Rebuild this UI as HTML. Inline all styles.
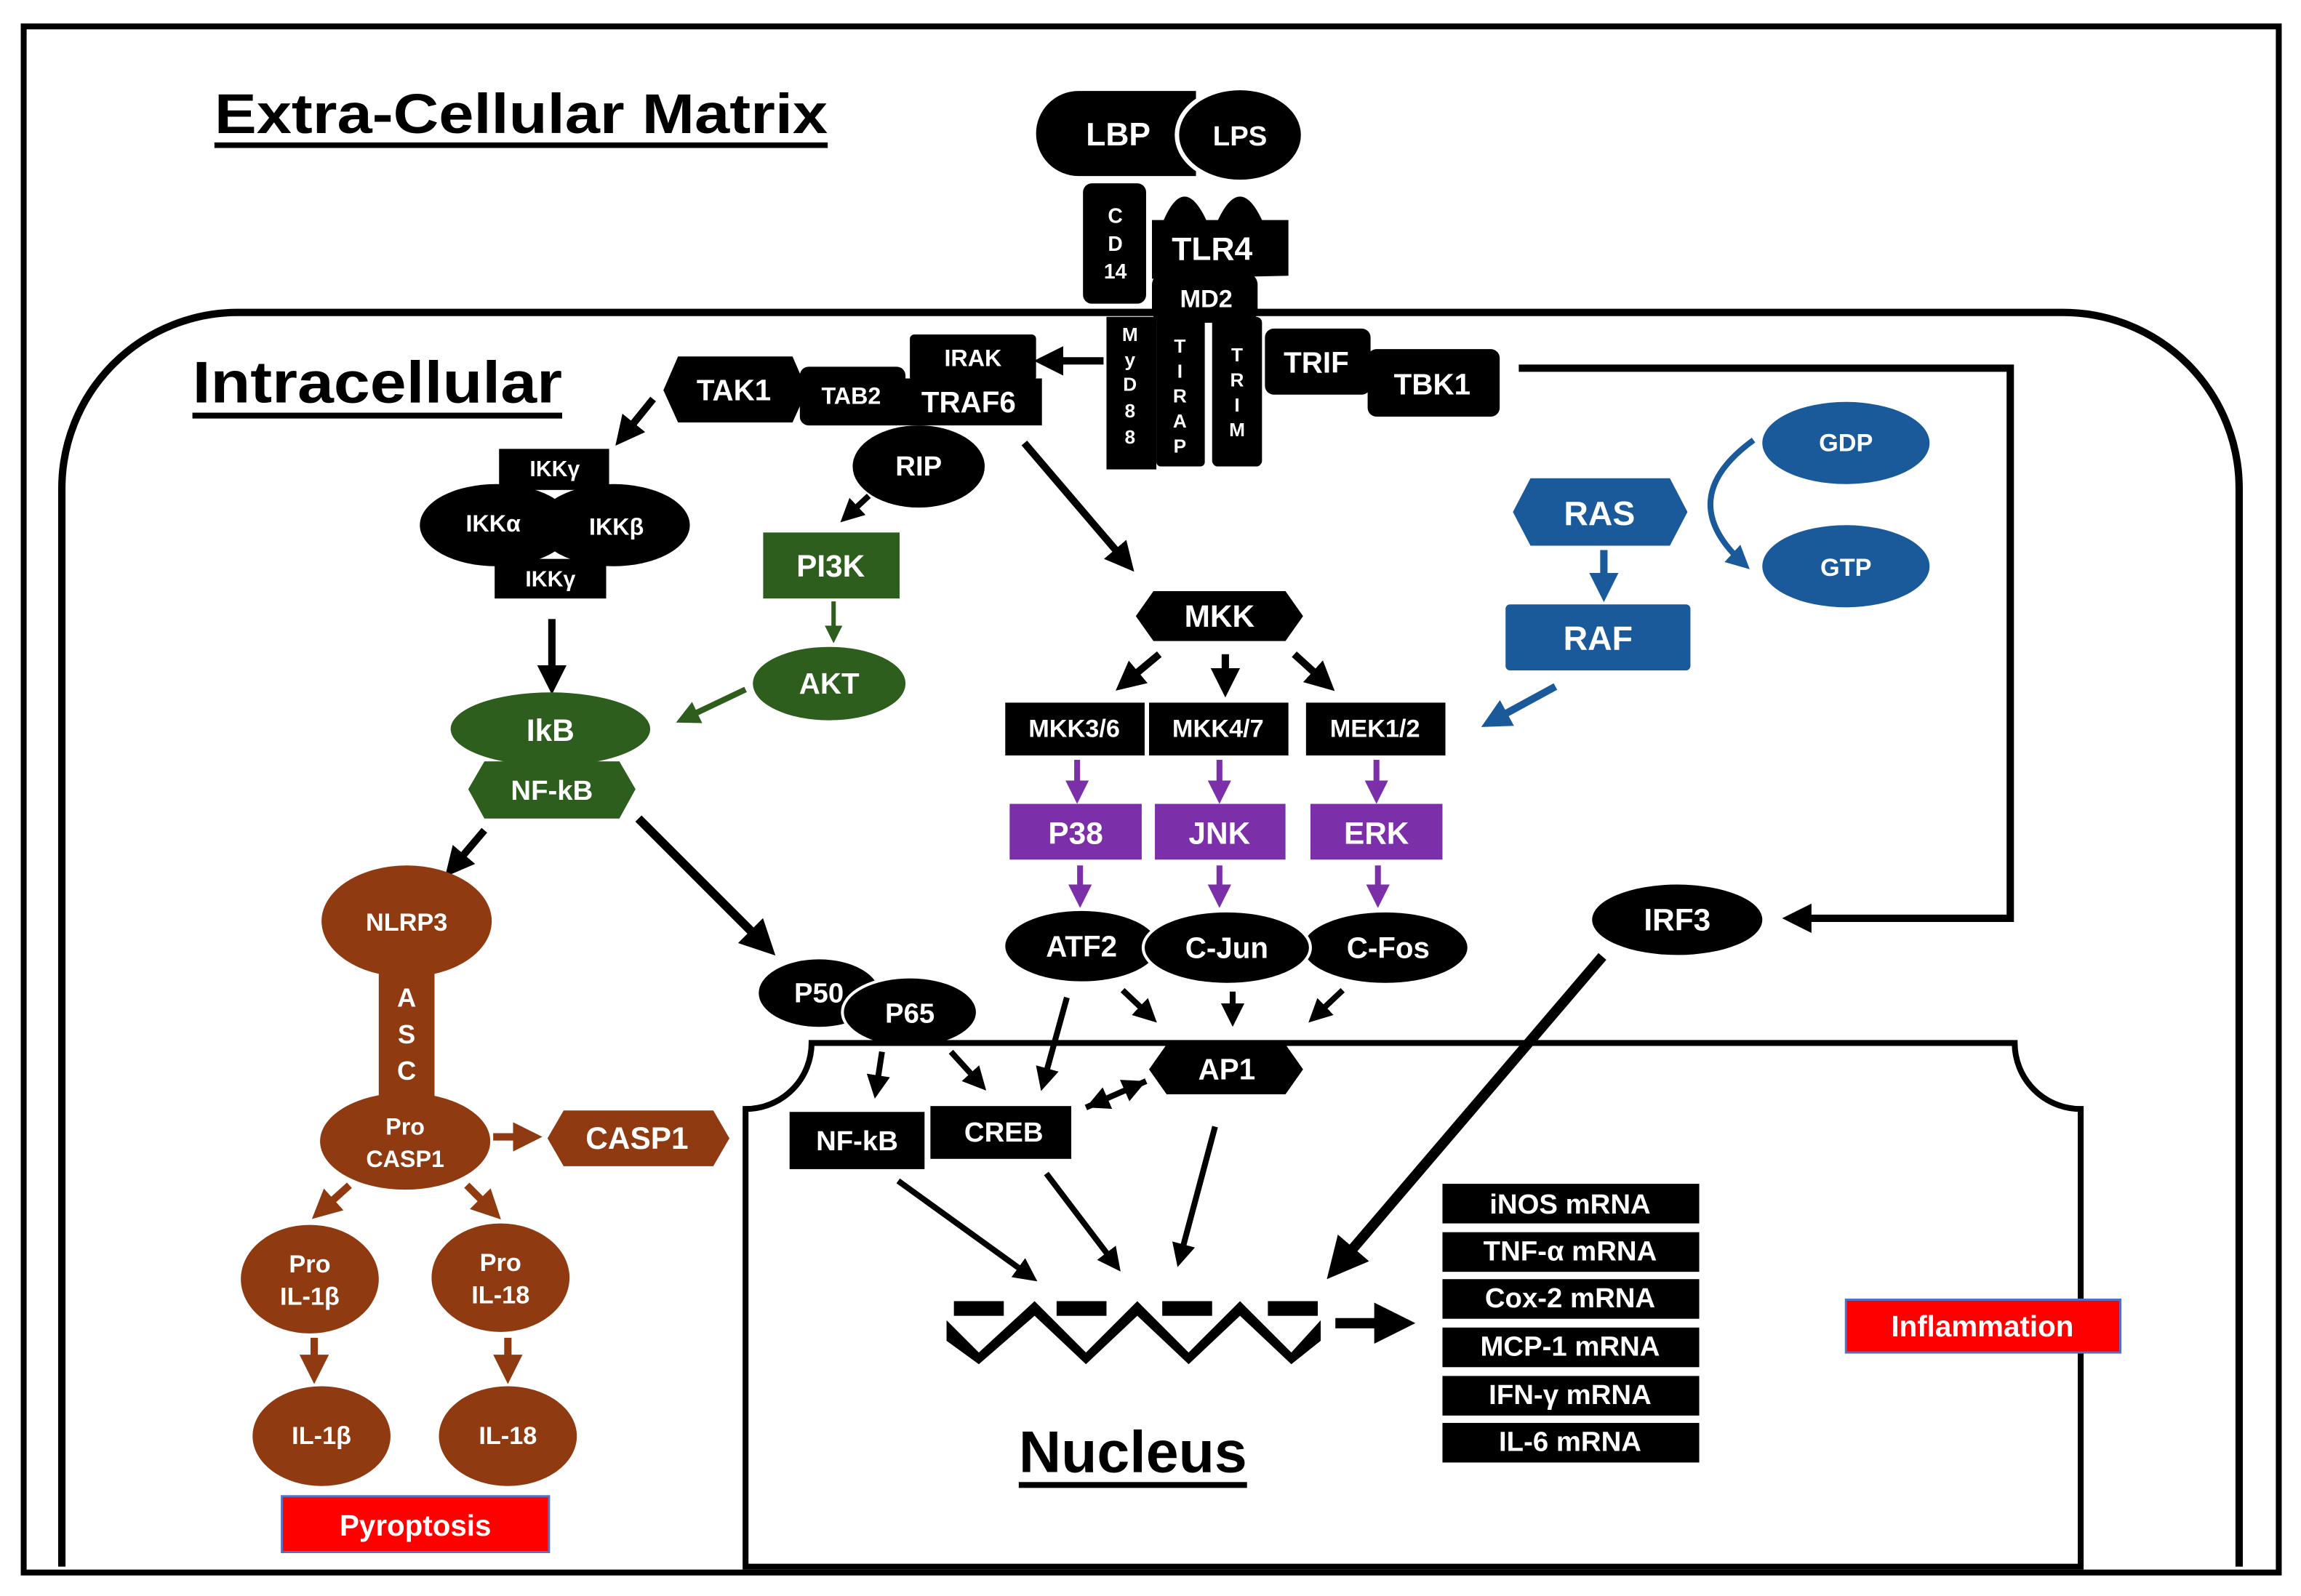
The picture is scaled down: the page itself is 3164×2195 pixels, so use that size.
<!DOCTYPE html>
<html><head><meta charset="utf-8"><style>
html,body{margin:0;padding:0;background:#fff}
svg{display:block}
text{font-family:"Liberation Sans",sans-serif;font-weight:bold;text-anchor:middle;dominant-baseline:central}
</style></head><body>
<svg width="3164" height="2195" viewBox="0 0 1568 1088" xmlns="http://www.w3.org/2000/svg">
<defs>
<marker id="ab" markerWidth="4" markerHeight="4" refX="2.5" refY="2" orient="auto" markerUnits="strokeWidth"><path d="M0,0 L4,2 L0,4 z" fill="#000"/></marker>
<marker id="ag" markerWidth="4" markerHeight="4" refX="2.5" refY="2" orient="auto" markerUnits="strokeWidth"><path d="M0,0 L4,2 L0,4 z" fill="#2d5e1e"/></marker>
<marker id="ap" markerWidth="4" markerHeight="4" refX="2.5" refY="2" orient="auto" markerUnits="strokeWidth"><path d="M0,0 L4,2 L0,4 z" fill="#7b2fa8"/></marker>
<marker id="abl" markerWidth="4" markerHeight="4" refX="2.5" refY="2" orient="auto" markerUnits="strokeWidth"><path d="M0,0 L4,2 L0,4 z" fill="#1a5a9a"/></marker>
<marker id="abr" markerWidth="4" markerHeight="4" refX="2.5" refY="2" orient="auto" markerUnits="strokeWidth"><path d="M0,0 L4,2 L0,4 z" fill="#8f3a10"/></marker>
<marker id="abs" markerWidth="4" markerHeight="4" refX="4" refY="2" orient="auto-start-reverse" markerUnits="strokeWidth"><path d="M0,0 L4,2 L0,4 z" fill="#000"/></marker>
</defs>
<rect x="16" y="18" width="1537" height="1054" fill="none" stroke="#000" stroke-width="4"/>
<path d="M42,1068 V333 A120,120 0 0 1 162,213 H1406 A120,120 0 0 1 1526,333 V1068" fill="none" stroke="#000" stroke-width="5"/>
<text x="355" y="78" font-size="38" textLength="418" lengthAdjust="spacingAndGlyphs" style="text-decoration:underline">Extra-Cellular Matrix</text>
<text x="257" y="261" font-size="40" textLength="252" lengthAdjust="spacingAndGlyphs" style="text-decoration:underline">Intracellular</text>

<!-- receptor complex -->
<path d="M735,62 H815 V120 H735 A29,29 0 0 1 735,62 Z" fill="#000"/>
<text x="762" y="92" font-size="22" fill="#fff">LBP</text>
<ellipse cx="845" cy="92" rx="43" ry="32" fill="#000" stroke="#fff" stroke-width="3"/>
<text x="845" y="93" font-size="19" fill="#fff">LPS</text>
<rect x="738" y="125" width="43" height="82" rx="6" fill="#000"/>
<text x="760" y="147" font-size="14" fill="#fff">C</text><text x="760" y="166" font-size="14" fill="#fff">D</text><text x="760" y="185" font-size="14" fill="#fff">14</text>
<path d="M785,190 V150 H793 Q807,118 822,150 H830 Q845,118 860,150 H878 V188 Z" fill="#000"/>
<text x="826" y="170" font-size="22" fill="#fff">TLR4</text>
<rect x="754" y="216" width="34" height="104" fill="#000"/>
<rect x="788" y="216" width="33" height="102" rx="3" fill="#000"/>
<rect x="826" y="216" width="34" height="102" rx="4" fill="#000"/>
<rect x="785" y="186" width="72" height="34" rx="8" fill="#000"/>
<text x="822" y="204" font-size="17" fill="#fff">MD2</text>
<text x="770" y="228" font-size="13" fill="#fff">M</text><text x="770" y="245" font-size="13" fill="#fff">y</text><text x="770" y="262" font-size="13" fill="#fff">D</text><text x="770" y="280" font-size="13" fill="#fff">8</text><text x="770" y="298" font-size="13" fill="#fff">8</text>
<text x="804" y="236" font-size="13" fill="#fff">T</text><text x="804" y="253" font-size="13" fill="#fff">I</text><text x="804" y="270" font-size="13" fill="#fff">R</text><text x="804" y="287" font-size="13" fill="#fff">A</text><text x="804" y="304" font-size="13" fill="#fff">P</text>
<text x="843" y="242" font-size="13" fill="#fff">T</text><text x="843" y="259" font-size="13" fill="#fff">R</text><text x="843" y="276" font-size="13" fill="#fff">I</text><text x="843" y="293" font-size="13" fill="#fff">M</text>
<rect x="862" y="224" width="72" height="45" rx="6" fill="#000"/>
<text x="897" y="247" font-size="20" fill="#fff">TRIF</text>
<rect x="932" y="238" width="90" height="46" rx="6" fill="#000"/>
<text x="976" y="262" font-size="20" fill="#fff">TBK1</text>

<rect x="620" y="228" width="86" height="32" rx="3" fill="#000"/>
<text x="663" y="244" font-size="16" fill="#fff">IRAK</text>
<rect x="612" y="258" width="98" height="32" fill="#000"/>
<text x="660" y="274" font-size="20" fill="#fff">TRAF6</text>
<rect x="545" y="250" width="72" height="40" rx="6" fill="#000"/>
<text x="580" y="270" font-size="16" fill="#fff">TAB2</text>
<polygon points="462,243 540,243 550,266 540,288 462,288 452,266" fill="#000"/>
<text x="500" y="266" font-size="20" fill="#fff">TAK1</text>
<line x1="752" y1="246" x2="712" y2="246" stroke="#000" stroke-width="5" marker-end="url(#ab)"/>
<line x1="445" y1="272" x2="424" y2="298" stroke="#000" stroke-width="5" marker-end="url(#ab)"/>

<rect x="340" y="306" width="75" height="28" fill="#000"/>
<text x="378" y="320" font-size="15" fill="#fff">IKKγ</text>
<ellipse cx="338" cy="358" rx="52" ry="28" fill="#000"/>
<ellipse cx="418" cy="358" rx="52" ry="28" fill="#000"/>
<text x="336" y="357" font-size="16" fill="#fff">IKKα</text>
<text x="420" y="359" font-size="16" fill="#fff">IKKβ</text>
<rect x="337" y="381" width="76" height="27" fill="#000"/>
<text x="375" y="395" font-size="15" fill="#fff">IKKγ</text>
<line x1="376" y1="422" x2="376" y2="466" stroke="#000" stroke-width="5" marker-end="url(#ab)"/>

<ellipse cx="626" cy="318" rx="45" ry="28" fill="#000"/>
<text x="626" y="318" font-size="19" fill="#fff">RIP</text>
<line x1="592" y1="338" x2="577" y2="352" stroke="#000" stroke-width="4" marker-end="url(#ab)"/>
<rect x="520" y="363" width="93" height="45" fill="#2d5e1e"/>
<text x="566" y="386" font-size="21" fill="#fff">PI3K</text>
<line x1="568" y1="410" x2="568" y2="434" stroke="#2d5e1e" stroke-width="3" marker-end="url(#ag)"/>
<ellipse cx="565" cy="466" rx="52" ry="25" fill="#2d5e1e"/>
<text x="565" y="466" font-size="20" fill="#fff">AKT</text>
<line x1="508" y1="470" x2="466" y2="490" stroke="#2d5e1e" stroke-width="4" marker-end="url(#ag)"/>
<ellipse cx="375" cy="497" rx="68" ry="25" fill="#2d5e1e"/>
<text x="375" y="498" font-size="21" fill="#fff">IkB</text>
<polygon points="330,519 422,519 433,538 422,558 330,558 319,538" fill="#2d5e1e"/>
<text x="376" y="539" font-size="19" fill="#fff">NF-kB</text>

<line x1="698" y1="302" x2="768" y2="384" stroke="#000" stroke-width="5" marker-end="url(#ab)"/>
<polygon points="786,403 876,403 888,420 876,437 786,437 774,420" fill="#000"/>
<text x="831" y="420" font-size="21" fill="#fff">MKK</text>
<line x1="790" y1="446" x2="766" y2="466" stroke="#000" stroke-width="5" marker-end="url(#ab)"/>
<line x1="835" y1="446" x2="835" y2="468" stroke="#000" stroke-width="5" marker-end="url(#ab)"/>
<line x1="882" y1="446" x2="904" y2="466" stroke="#000" stroke-width="5" marker-end="url(#ab)"/>
<rect x="685" y="479" width="95" height="36" fill="#000"/><text x="732" y="497" font-size="17" fill="#fff">MKK3/6</text>
<rect x="783" y="479" width="95" height="36" fill="#000"/><text x="830" y="497" font-size="17" fill="#fff">MKK4/7</text>
<rect x="890" y="479" width="95" height="36" fill="#000"/><text x="937" y="497" font-size="17" fill="#fff">MEK1/2</text>
<line x1="734" y1="518" x2="734" y2="542" stroke="#7b2fa8" stroke-width="4" marker-end="url(#ap)"/>
<line x1="831" y1="518" x2="831" y2="542" stroke="#7b2fa8" stroke-width="4" marker-end="url(#ap)"/>
<line x1="938" y1="518" x2="938" y2="542" stroke="#7b2fa8" stroke-width="4" marker-end="url(#ap)"/>
<rect x="688" y="548" width="90" height="38" fill="#7b2fa8"/><text x="733" y="568" font-size="21" fill="#fff">P38</text>
<rect x="787" y="548" width="89" height="38" fill="#7b2fa8"/><text x="831" y="568" font-size="21" fill="#fff">JNK</text>
<rect x="893" y="548" width="90" height="38" fill="#7b2fa8"/><text x="938" y="568" font-size="21" fill="#fff">ERK</text>
<line x1="736" y1="590" x2="736" y2="613" stroke="#7b2fa8" stroke-width="4" marker-end="url(#ap)"/>
<line x1="831" y1="590" x2="831" y2="613" stroke="#7b2fa8" stroke-width="4" marker-end="url(#ap)"/>
<line x1="939" y1="590" x2="939" y2="613" stroke="#7b2fa8" stroke-width="4" marker-end="url(#ap)"/>
<ellipse cx="737" cy="645" rx="53" ry="25" fill="#000" stroke="#fff" stroke-width="2"/>
<ellipse cx="944" cy="646" rx="57" ry="25" fill="#000" stroke="#fff" stroke-width="2"/>
<ellipse cx="836" cy="646" rx="57" ry="25" fill="#000" stroke="#fff" stroke-width="2"/>
<text x="737" y="645" font-size="20" fill="#fff">ATF2</text>
<text x="836" y="646" font-size="20" fill="#fff">C-Jun</text>
<text x="946" y="646" font-size="20" fill="#fff">C-Fos</text>

<!-- RAS -->
<polygon points="1043,326 1138,326 1150,349 1138,372 1043,372 1031,349" fill="#1a5a9a"/>
<text x="1090" y="350" font-size="23" fill="#fff">RAS</text>
<line x1="1093" y1="375" x2="1093" y2="403" stroke="#1a5a9a" stroke-width="5" marker-end="url(#abl)"/>
<rect x="1026" y="412" width="126" height="45" rx="3" fill="#1a5a9a"/>
<text x="1089" y="435" font-size="23" fill="#fff">RAF</text>
<ellipse cx="1258" cy="302" rx="57" ry="28" fill="#1a5a9a"/><text x="1258" y="302" font-size="17" fill="#fff">GDP</text>
<ellipse cx="1258" cy="386" rx="57" ry="28" fill="#1a5a9a"/><text x="1258" y="387" font-size="17" fill="#fff">GTP</text>
<path d="M1195,300 Q1140,340 1188,384" fill="none" stroke="#1a5a9a" stroke-width="4" marker-end="url(#abl)"/>
<line x1="1060" y1="468" x2="1016" y2="492" stroke="#1a5a9a" stroke-width="5" marker-end="url(#abl)"/>

<polyline points="1035,251 1370,251 1370,626 1222,626" fill="none" stroke="#000" stroke-width="5" marker-end="url(#ab)"/>
<ellipse cx="1143" cy="627" rx="58" ry="24" fill="#000"/>
<text x="1143" y="627" font-size="21" fill="#fff">IRF3</text>
<line x1="1092" y1="652" x2="911" y2="864" stroke="#000" stroke-width="7" marker-end="url(#ab)"/>

<!-- brown -->
<line x1="330" y1="566" x2="308" y2="592" stroke="#000" stroke-width="5" marker-end="url(#ab)"/>
<ellipse cx="277" cy="628" rx="58" ry="38" fill="#8f3a10"/>
<text x="277" y="629" font-size="17" fill="#fff">NLRP3</text>
<rect x="258" y="662" width="38" height="86" fill="#8f3a10"/>
<text x="277" y="680" font-size="18" fill="#fff">A</text><text x="277" y="705" font-size="18" fill="#fff">S</text><text x="277" y="730" font-size="18" fill="#fff">C</text>
<ellipse cx="276" cy="778" rx="58" ry="33" fill="#8f3a10"/>
<text x="276" y="768" font-size="16" fill="#fff">Pro</text><text x="276" y="790" font-size="16" fill="#fff">CASP1</text>
<line x1="336" y1="775" x2="362" y2="775" stroke="#8f3a10" stroke-width="5" marker-end="url(#abr)"/>
<polygon points="384,757 486,757 497,776 486,795 384,795 373,776" fill="#8f3a10"/>
<text x="434" y="776" font-size="21" fill="#fff">CASP1</text>
<line x1="238" y1="808" x2="218" y2="826" stroke="#8f3a10" stroke-width="5" marker-end="url(#abr)"/>
<line x1="318" y1="808" x2="336" y2="826" stroke="#8f3a10" stroke-width="5" marker-end="url(#abr)"/>
<ellipse cx="211" cy="872" rx="47" ry="37" fill="#8f3a10"/>
<text x="211" y="862" font-size="17" fill="#fff">Pro</text><text x="211" y="884" font-size="17" fill="#fff">IL-1β</text>
<ellipse cx="341" cy="871" rx="47" ry="37" fill="#8f3a10"/>
<text x="341" y="861" font-size="17" fill="#fff">Pro</text><text x="341" y="883" font-size="17" fill="#fff">IL-18</text>
<line x1="214" y1="912" x2="214" y2="936" stroke="#8f3a10" stroke-width="5" marker-end="url(#abr)"/>
<line x1="346" y1="912" x2="346" y2="936" stroke="#8f3a10" stroke-width="5" marker-end="url(#abr)"/>
<ellipse cx="219" cy="979" rx="47" ry="34" fill="#8f3a10"/><text x="219" y="979" font-size="17" fill="#fff">IL-1β</text>
<ellipse cx="346" cy="979" rx="47" ry="34" fill="#8f3a10"/><text x="346" y="979" font-size="17" fill="#fff">IL-18</text>
<rect x="192" y="1020" width="182" height="38" fill="#f00" stroke="#5470c0" stroke-width="1.5"/>
<text x="283" y="1040" font-size="20" fill="#fff">Pyroptosis</text>

<line x1="435" y1="558" x2="522" y2="645" stroke="#000" stroke-width="6" marker-end="url(#ab)"/>
<ellipse cx="558" cy="677" rx="42" ry="24" fill="#000" stroke="#fff" stroke-width="2"/>
<text x="558" y="677" font-size="19" fill="#fff">P50</text>
<ellipse cx="620" cy="690" rx="46" ry="24" fill="#000" stroke="#fff" stroke-width="2"/>
<text x="620" y="691" font-size="19" fill="#fff">P65</text>

<!-- nucleus -->
<path d="M553,711 H1373 A45,45 0 0 0 1418,756 V1068 H508 V756 A45,45 0 0 0 553,711 Z" fill="none" stroke="#000" stroke-width="4"/>
<polygon points="795,712 876,712 888,729 876,746 795,746 783,729" fill="#000"/>
<text x="836" y="729" font-size="20" fill="#fff">AP1</text>
<rect x="538" y="758" width="92" height="39" fill="#000"/><text x="584" y="778" font-size="19" fill="#fff">NF-kB</text>
<rect x="634" y="754" width="96" height="36" fill="#000"/><text x="684" y="772" font-size="19" fill="#fff">CREB</text>
<line x1="601" y1="717" x2="597" y2="743" stroke="#000" stroke-width="4" marker-end="url(#ab)"/>
<line x1="648" y1="717" x2="668" y2="739" stroke="#000" stroke-width="4" marker-end="url(#ab)"/>
<line x1="727" y1="680" x2="711" y2="738" stroke="#000" stroke-width="4" marker-end="url(#ab)"/>
<line x1="765" y1="675" x2="784" y2="693" stroke="#000" stroke-width="4" marker-end="url(#ab)"/>
<line x1="840" y1="676" x2="840" y2="694" stroke="#000" stroke-width="4" marker-end="url(#ab)"/>
<line x1="915" y1="675" x2="896" y2="693" stroke="#000" stroke-width="4" marker-end="url(#ab)"/>
<line x1="740" y1="755" x2="781" y2="737" stroke="#000" stroke-width="4" marker-start="url(#abs)" marker-end="url(#abs)"/>
<line x1="612" y1="805" x2="702" y2="870" stroke="#000" stroke-width="4" marker-end="url(#ab)"/>
<line x1="713" y1="800" x2="760" y2="862" stroke="#000" stroke-width="4" marker-end="url(#ab)"/>
<line x1="828" y1="768" x2="804" y2="858" stroke="#000" stroke-width="4" marker-end="url(#ab)"/>
<!-- DNA -->
<g fill="#000">
<rect x="650" y="887" width="34" height="10"/><rect x="720" y="887" width="34" height="10"/><rect x="792" y="887" width="34" height="10"/><rect x="864" y="887" width="34" height="10"/>
<polygon points="645,900 667,922 705,887 740,922 775,887 810,922 845,887 880,922 900,900 900,914 880,930 845,897 810,930 775,897 740,930 705,897 667,930 645,914"/>
</g>
<line x1="910" y1="902" x2="954" y2="902" stroke="#000" stroke-width="7" marker-end="url(#ab)"/>
<g font-size="19">
<rect x="983" y="807" width="175" height="27" fill="#000"/><text x="1070" y="821" fill="#fff">iNOS mRNA</text>
<rect x="983" y="840" width="175" height="27" fill="#000"/><text x="1070" y="853" fill="#fff">TNF-α mRNA</text>
<rect x="983" y="872" width="175" height="27" fill="#000"/><text x="1070" y="885" fill="#fff">Cox-2 mRNA</text>
<rect x="983" y="905" width="175" height="27" fill="#000"/><text x="1070" y="918" fill="#fff">MCP-1 mRNA</text>
<rect x="983" y="938" width="175" height="27" fill="#000"/><text x="1070" y="951" fill="#fff">IFN-γ mRNA</text>
<rect x="983" y="970" width="175" height="27" fill="#000"/><text x="1070" y="983" fill="#fff">IL-6 mRNA</text>
</g>
<rect x="1258" y="886" width="187" height="36" fill="#f00" stroke="#5470c0" stroke-width="1.5"/>
<text x="1351" y="904" font-size="20" fill="#fff">Inflammation</text>
<text x="772" y="990" font-size="40" style="text-decoration:underline">Nucleus</text>
</svg>
</body></html>
